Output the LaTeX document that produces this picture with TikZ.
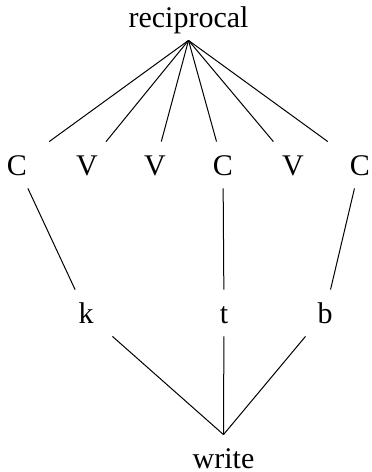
\documentclass[tikz,border=0pt]{standalone}
\usepackage{fontspec}
\setmainfont{Liberation Serif}
\begin{document}
\begin{tikzpicture}[x=0.5pt, y=-0.5pt,
		seg/.style={inner xsep=0pt, inner ysep=0pt, minimum width=40pt, text height=16.5pt, text depth=6.5pt, font=\fontsize{15}{18}\selectfont},
		link/.style={line width=0.5pt}]
			%%%%% START %%%%%
			
			\useasboundingbox (0, 0) rectangle (371, 472);
			
			\node[seg] (rec) at (188.5, 17) {reciprocal};
			
			\node[seg] (c1) at (17, 165) {C};
			\node[seg] (v1) at (87, 165) {V};
			\node[seg] (v2) at (155, 165) {V};
			\node[seg] (c2) at (223, 165) {C};
			\node[seg] (v3) at (293, 165) {V};
			\node[seg] (c3) at (360, 165) {C};
			
			\node[seg] (k) at (86, 313) {k};
			\node[seg] (t) at (224, 313) {t};
			\node[seg] (b) at (325, 313) {b};
			
			% no depth here, the word sits on the bottom edge
			\node[seg, text depth=0pt] (wr) at (223.5, 451.5) {write};
			
			\draw[link] (rec.south) -- (c1);
			\draw[link] (rec.south) -- (v1);
			\draw[link] (rec.south) -- (v2);
			\draw[link] (rec.south) -- (c2);
			\draw[link] (rec.south) -- (v3);
			\draw[link] (rec.south) -- (c3);
			
			\draw[link] (c1) -- (k);
			\draw[link] (c2) -- (t);
			\draw[link] (c3) -- (b);
			
			\draw[link] (k) -- (wr.north);
			\draw[link] (t) -- (wr.north);
			\draw[link] (b) -- (wr.north);
			
			%%%%% END %%%%%
		\end{tikzpicture}
\end{document}
